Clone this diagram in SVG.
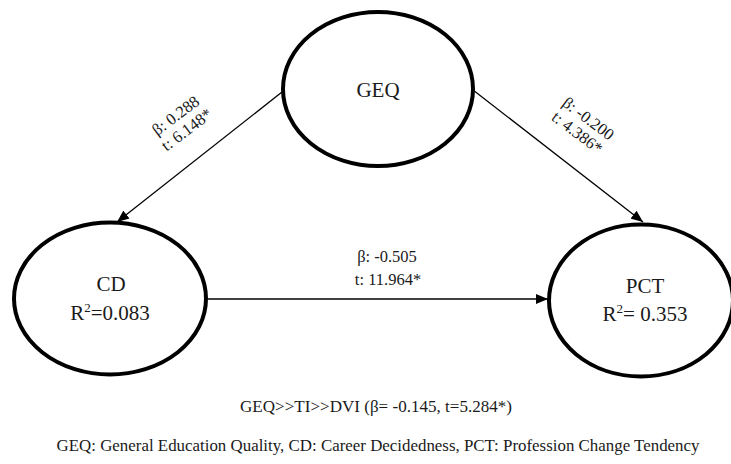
<svg xmlns="http://www.w3.org/2000/svg" width="731" height="464" viewBox="0 0 731 464">
<defs>
<style>
.node{fill:#fff;stroke:#000;stroke-width:4}
.edge{stroke:#000;stroke-width:1.3;fill:none}
.nt{font-family:"Liberation Serif","Times New Roman",serif;font-size:21px;fill:#1a1a1a;text-anchor:middle}
.lt{font-family:"Liberation Serif","Times New Roman",serif;font-size:16.5px;fill:#1a1a1a;text-anchor:middle}
.bt{font-family:"Liberation Serif","Times New Roman",serif;font-size:17px;fill:#1a1a1a;text-anchor:middle}
</style>
<marker id="arr" viewBox="0 0 10 10" refX="10" refY="5" markerWidth="10" markerHeight="10" markerUnits="userSpaceOnUse" orient="auto">
<path d="M0,0 L10,5 L0,10 Z" fill="#000"/>
</marker>
<marker id="arrL" viewBox="0 0 12 10" refX="12" refY="5" markerWidth="12" markerHeight="10" markerUnits="userSpaceOnUse" orient="auto">
<path d="M0,0 L12,5 L0,10 Z" fill="#000"/>
</marker>
</defs>
<rect width="731" height="464" fill="#fff"/>
<g id="connectors">
<line class="edge" x1="282" y1="92" x2="117" y2="222" marker-end="url(#arrL)"/>
<line class="edge" x1="473" y1="90" x2="643" y2="222" marker-end="url(#arrL)"/>
<line class="edge" x1="208" y1="299" x2="548" y2="299" marker-end="url(#arrL)"/>
<text class="lt" transform="translate(179,120) rotate(-37)">β: 0.288</text>
<text class="lt" transform="translate(190,134) rotate(-37)">t: 6.148*</text>
<text class="lt" transform="translate(585,123) rotate(37)">β: -0.200</text>
<text class="lt" transform="translate(574,137) rotate(37)">t: 4.386*</text>
<text class="lt" x="387" y="262">β: -0.505</text>
<text class="lt" x="388" y="285">t: 11.964*</text>
</g>
<g id="GEQ">
<ellipse class="node" cx="378" cy="89" rx="95" ry="77"/>
<text class="nt" x="378" y="97">GEQ</text>
</g>
<g id="CD">
<ellipse class="node" cx="110" cy="298.5" rx="96" ry="76"/>
<text class="nt" x="111" y="291">CD</text>
<text class="nt" x="110" y="320">R<tspan font-size="13" dy="-8">2</tspan><tspan dy="8">=0.083</tspan></text>
</g>
<g id="PCT">
<ellipse class="node" cx="641" cy="300.5" rx="92" ry="76"/>
<text class="nt" x="645" y="293">PCT</text>
<text class="nt" x="645" y="321">R<tspan font-size="13" dy="-8">2</tspan><tspan dy="8">= 0.353</tspan></text>
</g>
<g id="notes">
<text class="bt" x="376" y="412" textLength="272" lengthAdjust="spacingAndGlyphs">GEQ&gt;&gt;TI&gt;&gt;DVI (β= -0.145, t=5.284*)</text>
<text class="bt" x="378" y="451" textLength="643" lengthAdjust="spacingAndGlyphs">GEQ: General Education Quality, CD: Career Decidedness, PCT: Profession Change Tendency</text>
</g>
</svg>
